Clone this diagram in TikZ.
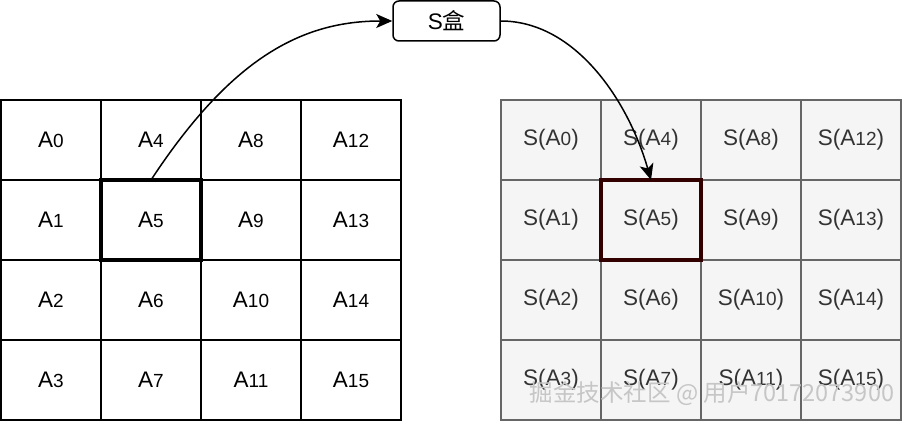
\documentclass[tikz,border=0pt]{standalone}
\usepackage{fontspec}
\setmainfont{Liberation Sans}
\newfontfamily\cjk{Noto Sans CJK SC}
\usetikzlibrary{arrows.meta}
\newcommand\dg[1]{{\fontsize{19}{19}\selectfont #1}}
\definecolor{sfill}{HTML}{F5F5F5}
\definecolor{sline}{HTML}{666666}
\definecolor{hilite}{HTML}{330000}
\tikzset{
  cellA/.style={draw=black, line width=1.6pt, minimum width=100pt, minimum height=80pt,
    inner sep=0pt, outer sep=0pt, font=\fontsize{22.5}{22.5}\selectfont},
  cellS/.style={cellA, draw=sline, fill=sfill, text=black!80},
  boxA/.style={draw=black, line width=4.5pt},
  boxS/.style={draw=hilite, line width=4.5pt},
  sbox/.style={draw=black, line width=1.5pt, rounded corners=6pt, minimum width=107pt,
    minimum height=40pt, inner sep=0pt, font=\fontsize{22.5}{22.5}\selectfont},
  link/.style={line width=1.5pt, -{Stealth[length=16pt,width=14pt,inset=4pt]}},
  wmark/.style={text=gray!45, font=\cjk\fontsize{23.5}{23.5}\selectfont, inner sep=0pt}
}
\begin{document}
\begin{tikzpicture}[x=1pt,y=-1pt]
\useasboundingbox (0,0) rectangle (902,422);
\foreach \c in {0,1,2,3}{
  \foreach \r in {0,1,2,3}{
    \pgfmathtruncatemacro\n{4*\c+\r}
    \node[cellA] (a\n) at (51+100*\c,140+80*\r) {A\dg{\n}};
    \node[cellS] (s\n) at (551+100*\c,140+80*\r) {S(A\dg{\n})};
  }
}
\draw[boxA] (a5.south west) rectangle (a5.north east);
\draw[boxS] (s5.south west) rectangle (s5.north east);
\node[sbox] (sb) at (446.5,21) {S{\cjk 盒}};
\draw[link] (a5.north) .. controls (230,60) and (300,21) .. (sb.west);
\draw[link] (sb.east) .. controls (575,21) and (628,100) .. (s5.north);
\node[wmark] (wm) at (712,394) {掘金技术社区 @ 用户70172073900};
\end{tikzpicture}
\end{document}
